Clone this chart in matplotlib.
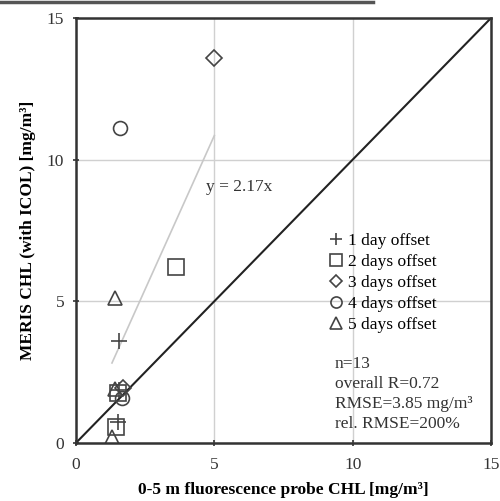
"""MERIS CHL vs fluorescence probe CHL scatter"""

import numpy as np
import matplotlib.pyplot as plt
from matplotlib.lines import Line2D

plt.rcParams['font.family'] = ['Liberation Serif', 'DejaVu Serif']

# data
d1_x = [1.55, 1.55, 1.50]
d1_y = [3.6, 1.85, 0.75]
d2_x = [3.6, 1.50, 1.45]
d2_y = [6.2, 1.75, 0.55]
d3_x = [5.0, 1.70]
d3_y = [13.6, 1.95]
d4_x = [1.6, 1.65]
d4_y = [11.1, 1.6]
d5_x = [1.4, 1.40, 1.30]
d5_y = [5.1, 1.9, 0.2]

slope = 2.17
fit_x = [1.3, 5.0]

fig = plt.figure(figsize=(5.0, 5.01), dpi=100)
ax = fig.add_axes([0.152, 0.116, 0.83, 0.848])

ax.set_xlim(0, 15)
ax.set_ylim(0, 15)
ax.set_xticks([0, 5, 10, 15])
ax.set_yticks([0, 5, 10, 15])
ax.grid(True, c='#d0d0d0', lw=1)
ax.set_axisbelow(True)
for s in ax.spines.values():
    s.set_linewidth(1.8)
    s.set_color('#333333')
ax.tick_params(direction='inout', length=5, width=1.2, labelsize=12.5,
               colors='#333333')
ax.tick_params(axis='x', pad=8)
ax.tick_params(axis='y', pad=6)

ax.plot([0, 15], [0, 15], c='#222222', lw=1.5)
fx = np.array(fit_x)
ax.plot(fx, slope * fx, c='#c8c8c8', lw=1.2)
ax.text(4.7, 8.9, 'y = 2.17x', fontsize=12.5, color='#333333')

mk = dict(ls='none', mfc='none', mec='#444444', mew=1.2)
ax.plot(d1_x, d1_y, marker='+', ms=12, label='1 day offset', **mk)
ax.plot(d2_x, d2_y, marker='s', ms=11, label='2 days offset', **mk)
ax.plot(d3_x, d3_y, marker='D', ms=8, label='3 days offset', **mk)
ax.plot(d4_x, d4_y, marker='o', ms=10, label='4 days offset', **mk)
ax.plot(d5_x, d5_y, marker='^', ms=10, label='5 days offset', **mk)

handles = [Line2D([], [], marker=m, ms=s, **mk)
           for m, s in [('+', 9), ('s', 8), ('D', 6), ('o', 8), ('^', 8)]]
labels = ['1 day offset', '2 days offset', '3 days offset',
          '4 days offset', '5 days offset']
ax.legend(handles, labels, loc='upper left', bbox_to_anchor=(0.595, 0.51),
          frameon=False, fontsize=12.5, handlelength=0.7, handletextpad=0.35,
          labelspacing=0.28, borderaxespad=0)

stats = 'n=13\noverall R=0.72\nRMSE=3.85 mg/m\u00b3\nrel. RMSE=200%'
ax.text(9.35, 3.05, stats, fontsize=12.5, va='top', linespacing=1.33,
        color='#333333')

ax.set_xlabel('0-5 m fluorescence probe CHL [mg/m\u00b3]', fontsize=12.5,
              fontweight='bold', labelpad=6)
ax.set_ylabel('MERIS CHL (with ICOL) [mg/m\u00b3]', fontsize=12.5,
              fontweight='bold', labelpad=8)

# dark strip along the top edge of the scan
fig.add_artist(Line2D([0, 0.746], [0.997, 0.997], c='#555555', lw=2.5,
                      transform=fig.transFigure))

fig.savefig('out.png', dpi=100)
